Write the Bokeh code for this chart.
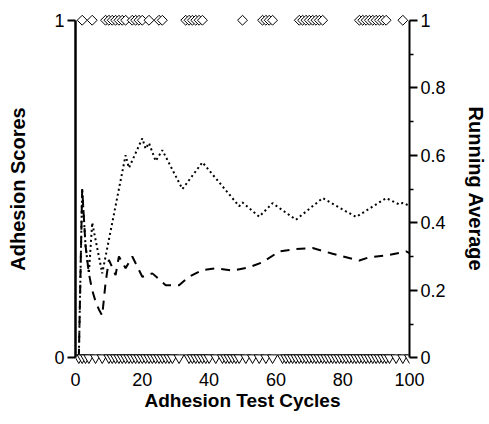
from bokeh.plotting import figure
from bokeh.models import Range1d, LinearAxis, FixedTicker, ColumnDataSource
from bokeh.embed import file_html
from bokeh.resources import INLINE

# Cycles scored 1 (diamonds on top) and 0 (triangles at bottom)
cycles_score1 = [2, 5, 9, 10, 11, 12, 13, 14, 15, 17, 18, 19, 20, 22, 25, 26,
                 33, 34, 35, 36, 37, 38, 50, 56, 57, 58, 59,
                 67, 68, 69, 70, 71, 72, 73, 74,
                 85, 86, 87, 88, 89, 90, 91, 92, 93, 98]
cycles_score0 = [1, 2, 3, 4, 6, 8, 10, 11, 12, 13, 14, 15, 16, 17, 18, 19, 20,
                 21, 22, 23, 24, 25, 26, 27, 28, 29, 31,
                 34, 35, 36, 37, 38, 39, 40, 42, 44, 45, 46, 47, 48, 49,
                 51, 53, 55, 57, 59,
                 62, 63, 64, 65, 66, 67, 68, 69, 70, 71, 72, 73, 74, 75, 76, 77, 78,
                 79, 80, 81, 82, 83, 84, 85, 86, 87, 88, 89, 90, 91, 92, 93, 94,
                 96, 98, 100]

# Running average (dotted)
avg1_x = [1, 2, 3, 4, 5, 8, 15, 16, 20, 21, 22, 24, 26, 32, 38, 49, 50, 55, 59,
          66, 74, 84, 93, 97, 98, 100]
avg1_y = [0.0, 0.5, 0.333, 0.25, 0.4, 0.25, 0.6, 0.5625, 0.65, 0.619, 0.636, 0.583,
          0.615, 0.5, 0.579, 0.449, 0.46, 0.418, 0.458, 0.409, 0.473, 0.417, 0.473,
          0.454, 0.459, 0.45]

# Running average (dashed)
avg2_x = [1, 2, 3, 4, 5, 6, 7, 8, 9, 10, 12, 13, 15, 17, 20, 23, 27, 31, 34, 38,
          42, 47, 52, 56, 61, 66, 71, 77, 85, 88, 93, 99, 100]
avg2_y = [0.0, 0.5, 0.333, 0.25, 0.2, 0.167, 0.143, 0.125, 0.222, 0.29, 0.245, 0.30,
          0.265, 0.30, 0.24, 0.25, 0.215, 0.215, 0.24, 0.26, 0.265, 0.258, 0.268,
          0.283, 0.315, 0.322, 0.325, 0.308, 0.288, 0.298, 0.303, 0.315, 0.31]

x_ticks = [0, 20, 40, 60, 80, 100]
left_ticks = [0, 1]
right_ticks = [0, 0.2, 0.4, 0.6, 0.8, 1]
right_minor = [0.1, 0.3, 0.5, 0.7, 0.9]

FONT = "Liberation Sans"

p = figure(width=489, height=424, output_backend="svg", toolbar_location=None,
           x_range=Range1d(0, 100), y_range=Range1d(-0.02, 1.02))
p.min_border_left = 75
p.min_border_right = 78
p.min_border_top = 13
p.min_border_bottom = 60
p.outline_line_color = None
p.xgrid.visible = False
p.ygrid.visible = False
p.background_fill_color = "white"

# lines
p.line(avg1_x, avg1_y, line_color="black", line_width=2, line_dash="2 3")
p.line(avg2_x, avg2_y, line_color="black", line_width=2, line_dash="9 7")

# markers
src1 = ColumnDataSource(dict(x=cycles_score1, y=[1] * len(cycles_score1)))
src0 = ColumnDataSource(dict(x=cycles_score0, y=[0] * len(cycles_score0)))
p.scatter("x", "y", source=src0, marker="inverted_triangle", size=10,
          fill_color="white", line_color="black", line_width=1)
p.scatter("x", "y", source=src1, marker="square", angle=0.7854, size=7,
          fill_color="white", line_color="black", line_width=1)

# x axis
xa = p.xaxis[0]
xa.ticker = FixedTicker(ticks=x_ticks)
xa.axis_line_color = None
xa.major_tick_line_color = None
xa.minor_tick_line_color = None
xa.major_label_standoff = 2
xa.major_label_text_font = FONT
xa.major_label_text_font_size = "18px"
xa.major_label_text_color = "black"
xa.axis_label = "Adhesion Test Cycles"
xa.axis_label_text_font = FONT
xa.axis_label_text_font_size = "19px"
xa.axis_label_text_font_style = "bold"
xa.axis_label_text_color = "black"
xa.axis_label_standoff = 1

# left axis
ya = p.yaxis[0]
ya.ticker = FixedTicker(ticks=left_ticks)
ya.bounds = (0, 1)
ya.axis_line_width = 2.5
ya.major_tick_line_width = 2
ya.major_tick_out = 8
ya.major_tick_in = 0
ya.minor_tick_line_color = None
ya.major_label_standoff = 3
ya.major_label_text_font = FONT
ya.major_label_text_font_size = "18px"
ya.major_label_text_color = "black"
ya.axis_label = "Adhesion Scores"
ya.axis_label_text_font = FONT
ya.axis_label_text_font_size = "20px"
ya.axis_label_text_font_style = "bold"
ya.axis_label_text_color = "black"
ya.axis_label_standoff = 22

# right axis
ra = LinearAxis(ticker=FixedTicker(ticks=right_ticks, minor_ticks=right_minor),
                bounds=(0, 1))
ra.major_label_overrides = {0: "0", 0.2: "0.2", 0.4: "0.4", 0.6: "0.6", 0.8: "0.8", 1: "1"}
ra.axis_line_width = 2
ra.major_tick_line_width = 2
ra.major_tick_out = 8
ra.major_tick_in = 0
ra.minor_tick_line_width = 1.5
ra.minor_tick_out = 4
ra.minor_tick_in = 0
ra.major_label_standoff = 3
ra.major_label_text_font = FONT
ra.major_label_text_font_size = "18px"
ra.major_label_text_color = "black"
ra.axis_label = "Running Average"
ra.axis_label_text_font = FONT
ra.axis_label_text_font_size = "20px"
ra.axis_label_text_font_style = "bold"
ra.axis_label_text_color = "black"
ra.axis_label_standoff = 16
p.add_layout(ra, "right")

open("out.html", "w").write(file_html(p, INLINE))
